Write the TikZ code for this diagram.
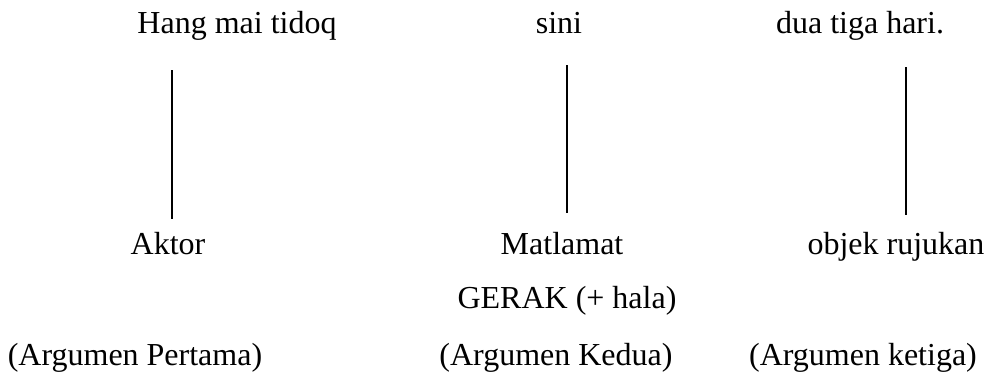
\documentclass[tikz,border=0pt]{standalone}
\usepackage{fontspec}
\setmainfont{Liberation Serif}
\usepackage{tikz}
\usetikzlibrary{positioning,calc}

\begin{document}
\begin{tikzpicture}[x=0.375pt, y=-0.375pt, word/.style={anchor=base, inner sep=0pt, font=\fontsize{12}{14}\selectfont}]
    \useasboundingbox (0,0) rectangle (987,374);

    \node[word] (hang) at (237,33) {Hang mai tidoq};
    \node[word] (sini) at (559,33) {sini};
    \node[word] (hari) at (860,33) {dua tiga hari.};

    \node[word] (aktor) at (168,254) {Aktor};
    \node[word] (matlamat) at (562,254) {Matlamat};
    \node[word] (objek) at (896,254) {objek rujukan};

    \node[word] (gerak) at (567,308) {GERAK (+ hala)};

    \node[word] (arg1) at (135,365) {(Argumen Pertama)};
    \node[word] (arg2) at (556,365) {(Argumen Kedua)};
    \node[word] (arg3) at (863,365) {(Argumen ketiga)};

    \coordinate (t1) at (172,70);  \coordinate (b1) at (172,219);
    \coordinate (t2) at (567,65);  \coordinate (b2) at (567,213);
    \coordinate (t3) at (906,67);  \coordinate (b3) at (906,215);
    \draw[line width=0.6pt] (t1) -- (b1);
    \draw[line width=0.6pt] (t2) -- (b2);
    \draw[line width=0.6pt] (t3) -- (b3);
\end{tikzpicture}
\end{document}
